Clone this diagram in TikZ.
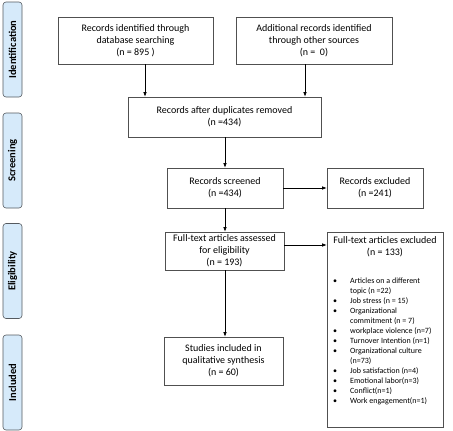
\documentclass[tikz,border=0pt]{standalone}
\usepackage{fontspec}
\setmainfont{Carlito}
\usetikzlibrary{arrows.meta,calc}
\definecolor{barfill}{RGB}{214,234,250}
\definecolor{barline}{RGB}{85,90,95}
\definecolor{boxline}{RGB}{80,80,80}
\begin{document}
\begin{tikzpicture}[x=1pt,y=-1pt,
  bar/.style={draw=barline, fill=barfill, line width=0.6pt, rounded corners=3pt, rotate=90, inner sep=0pt,
    minimum width=95pt, minimum height=19pt, font=\fontsize{10.5}{12}\selectfont\bfseries},
  box/.style={draw=boxline, line width=0.6pt, inner sep=0pt, align=center,
    font=\fontsize{10}{12}\selectfont},
  arr/.style={-{Latex[length=4.5pt,width=3.5pt]}, line width=0.6pt}]
\useasboundingbox (0,0) rectangle (453,431);
% side bars
\node[bar] (idbar) at (12.5,49.5) {Identification};
\node[bar] (scbar) at (12.5,160.5) {Screening};
\node[bar] (elbar) at (12.5,271) {Eligibility};
\node[bar] (inbar) at (12.5,382.5) {Included};
% boxes
\node[box, minimum width=155pt, minimum height=47pt] (b1) at (135.5,40.5)
  {Records identified through\\ database searching\\ (n = 895 )};
\node[box, minimum width=156pt, minimum height=47pt] (b2) at (314,40.5)
  {Additional records identified\\ through other sources\\ (n =\ \ 0)};
\node[box, minimum width=193pt, minimum height=40pt] (b3) at (224.5,117)
  {Records after duplicates removed\\ (n =434)};
\node[box, minimum width=116pt, minimum height=40pt] (b4) at (225,188)
  {Records screened\\ (n =434)};
\node[box, minimum width=96pt, minimum height=40pt] (b5) at (375,188)
  {Records excluded\\ (n =241)};
\node[box, minimum width=119pt, minimum height=38pt] (b6) at (224.5,251)
  {Full-text articles assessed\\ for eligibility\\ (n = 193)};
\node[box, minimum width=116pt, minimum height=195pt] (b7) at (385,329.5) {};
\node[box, draw=none, anchor=north] (b7t) at ([yshift=-5pt]b7.north)
  {Full-text articles excluded\\ (n = 133)};
\node[anchor=north west, inner sep=0pt, font=\fontsize{8}{10}\selectfont] (b7l) at (333,276)
  {\begin{tabular}{@{}p{17pt}@{}l@{}}
  \textbullet & Articles on a different\\
   & topic (n =22)\\
  \textbullet & Job stress (n = 15)\\
  \textbullet & Organizational\\
   & commitment (n = 7)\\
  \textbullet & workplace violence (n=7)\\
  \textbullet & Turnover Intention (n=1)\\
  \textbullet & Organizational culture\\
   & (n=73)\\
  \textbullet & Job satisfaction (n=4)\\
  \textbullet & Emotional labor(n=3)\\
  \textbullet & Conflict(n=1)\\
  \textbullet & Work engagement(n=1)
  \end{tabular}};
\node[box, minimum width=119pt, minimum height=48pt] (b8) at (223.5,361)
  {Studies included in\\ qualitative synthesis\\ (n = 60)};
% arrows
\draw[arr] ([xshift=9.5pt]b1.south) -- ([xshift=9.5pt]b1.south |- b3.north);
\draw[arr] ([xshift=-9pt]b2.south) -- ([xshift=-9pt]b2.south |- b3.north);
\draw[arr] (b3.south -| b4.north) -- (b4.north);
\draw[arr] (b4.east) -- (b5.west);
\draw[arr] (b4.south) -- (b4.south |- b6.north);
\draw[arr] ([yshift=6pt]b6.east) -- ([yshift=6pt]b6.east -| b7.west);
\draw[arr] (b6.south -| b4.south) -- (b4.south |- b8.north);
\end{tikzpicture}
\end{document}
